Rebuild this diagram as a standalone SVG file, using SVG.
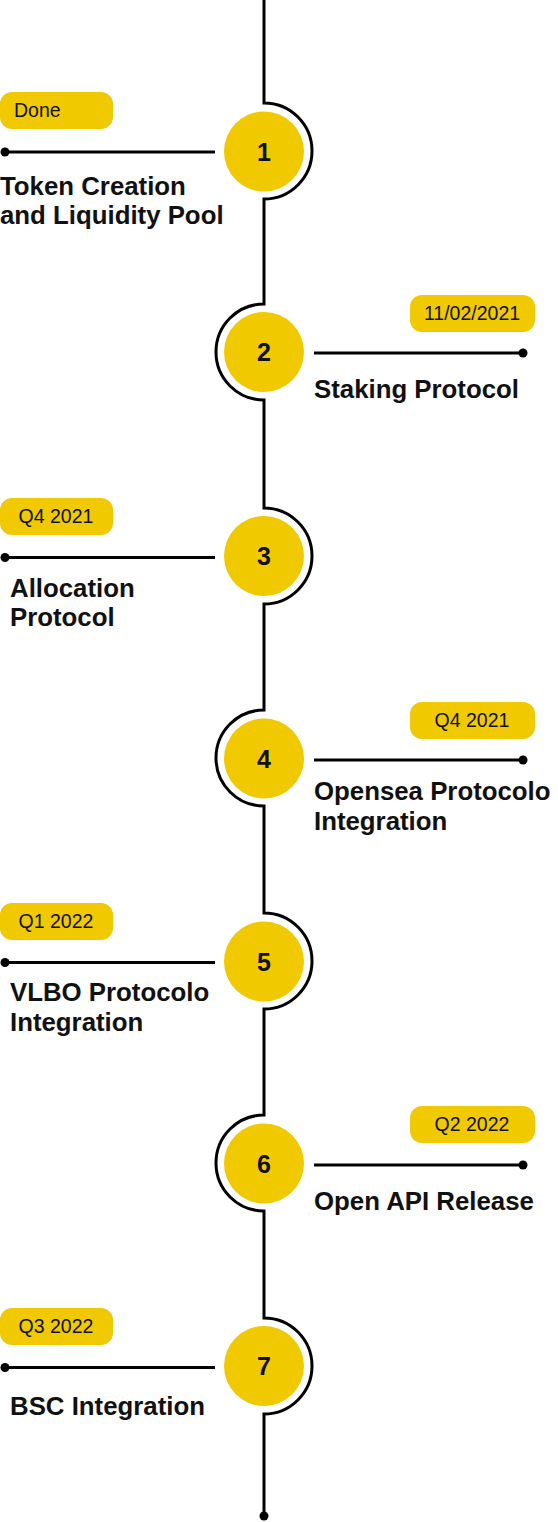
<svg xmlns="http://www.w3.org/2000/svg" width="558" height="1522" viewBox="0 0 558 1522">
<style>
.ln{fill:none;stroke:#000;stroke-width:3}
.dot{fill:#000}
.bub{fill:#F0C900}
.pill{fill:#F0C900}
.pt{font-family:"Liberation Sans",Arial,sans-serif;font-size:19.5px;fill:#111}
.num{font-family:"Liberation Sans",Arial,sans-serif;font-size:25px;font-weight:700;fill:#111;text-anchor:middle}
.tt{font-family:"Liberation Sans",Arial,sans-serif;font-size:25.8px;font-weight:700;fill:#111}
</style>
<rect width="558" height="1522" fill="#fff"/>
<g id="connectors">
<path class="ln" d="M264 0 V103 A48 48 0 0 1 264 199 V304 A48 48 0 0 0 264 400 V508 A48 48 0 0 1 264 604 V710 A48 48 0 0 0 264 806 V913 A48 48 0 0 1 264 1009 V1115 A48 48 0 0 0 264 1211 V1318 A48 48 0 0 1 264 1414 V1516"/>
<circle class="dot" cx="264" cy="1516" r="4.5"/>
<path class="ln" d="M4 152 H215 M314 353 H523 M4 557.5 H215 M314 760 H523 M4 962.5 H215 M314 1165 H523 M4 1367.5 H215"/>
<circle class="dot" cx="5" cy="152" r="4.5"/>
<circle class="dot" cx="523" cy="353" r="4.5"/>
<circle class="dot" cx="5" cy="557.5" r="4.5"/>
<circle class="dot" cx="523" cy="760" r="4.5"/>
<circle class="dot" cx="5" cy="962.5" r="4.5"/>
<circle class="dot" cx="523" cy="1165" r="4.5"/>
<circle class="dot" cx="5" cy="1367.5" r="4.5"/>
</g>
<g id="node1">
<circle class="bub" cx="264" cy="151.5" r="40"/>
<text class="num" x="264" y="160.5">1</text>
<rect class="pill" x="0" y="92" width="113" height="37" rx="12"/>
<text class="pt" x="14" y="117">Done</text>
<text class="tt" x="0" y="195">Token Creation</text>
<text class="tt" x="0" y="224">and Liquidity Pool</text>
</g>
<g id="node2">
<circle class="bub" cx="264" cy="352" r="40"/>
<text class="num" x="264" y="361">2</text>
<rect class="pill" x="410" y="295" width="125" height="37" rx="12"/>
<text class="pt" x="472" y="320" text-anchor="middle">11/02/2021</text>
<text class="tt" x="314" y="398">Staking Protocol</text>
</g>
<g id="node3">
<circle class="bub" cx="264" cy="556" r="40"/>
<text class="num" x="264" y="565">3</text>
<rect class="pill" x="0" y="498" width="113" height="37" rx="12"/>
<text class="pt" x="56" y="523" text-anchor="middle">Q4 2021</text>
<text class="tt" x="10" y="597">Allocation</text>
<text class="tt" x="10" y="626">Protocol</text>
</g>
<g id="node4">
<circle class="bub" cx="264" cy="758.5" r="40"/>
<text class="num" x="264" y="767.5">4</text>
<rect class="pill" x="410" y="702" width="125" height="37" rx="12"/>
<text class="pt" x="472" y="727" text-anchor="middle">Q4 2021</text>
<text class="tt" x="314" y="800">Opensea Protocolo</text>
<text class="tt" x="314" y="830">Integration</text>
</g>
<g id="node5">
<circle class="bub" cx="264" cy="961.5" r="40"/>
<text class="num" x="264" y="970.5">5</text>
<rect class="pill" x="0" y="903" width="113" height="37" rx="12"/>
<text class="pt" x="56" y="928" text-anchor="middle">Q1 2022</text>
<text class="tt" x="10" y="1001">VLBO Protocolo</text>
<text class="tt" x="10" y="1031">Integration</text>
</g>
<g id="node6">
<circle class="bub" cx="264" cy="1163.5" r="40"/>
<text class="num" x="264" y="1172.5">6</text>
<rect class="pill" x="410" y="1106" width="125" height="37" rx="12"/>
<text class="pt" x="472" y="1131" text-anchor="middle">Q2 2022</text>
<text class="tt" x="314" y="1210">Open API Release</text>
</g>
<g id="node7">
<circle class="bub" cx="264" cy="1366" r="40"/>
<text class="num" x="264" y="1375">7</text>
<rect class="pill" x="0" y="1308" width="113" height="37" rx="12"/>
<text class="pt" x="56" y="1333" text-anchor="middle">Q3 2022</text>
<text class="tt" x="10" y="1415">BSC Integration</text>
</g>
</svg>
